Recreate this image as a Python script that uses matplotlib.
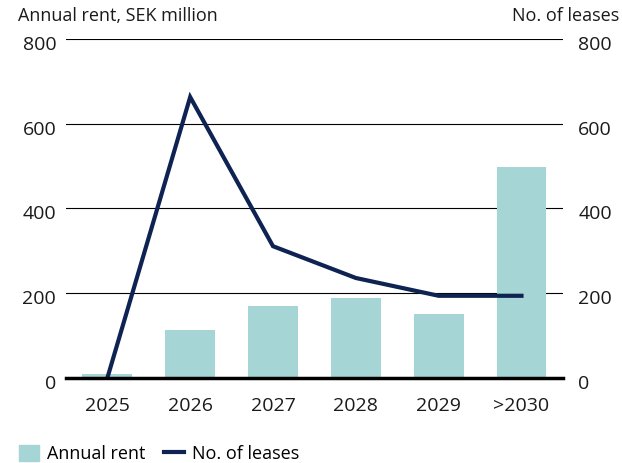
import matplotlib.pyplot as plt
import matplotlib.lines as mlines
import matplotlib.patches as patches
import matplotlib.transforms as mtransforms

# Data
categories = ["2025", "2026", "2027", "2028", "2029", ">2030"]
annual_rent = [10, 113, 170, 189, 151, 498]
no_of_leases = [0, 663, 311, 236, 194, 194]
y_ticks = [0, 200, 400, 600, 800]

BAR_COLOR = "#a5d6d5"
LINE_COLOR = "#0f2352"

plt.rcParams['font.family'] = ['Open Sans', 'DejaVu Sans']

fig = plt.figure(figsize=(6.22, 4.63), dpi=100)
ax = fig.add_axes([0.106, 0.1836, 0.799, 0.7322])
ax2 = ax.twinx()

x = list(range(len(categories)))
ax.bar(x, annual_rent, width=0.6, color=BAR_COLOR, zorder=2)
ax2.plot(x, no_of_leases, color=LINE_COLOR, linewidth=3, solid_joinstyle='miter', zorder=3)

for a in (ax, ax2):
    a.set_ylim(0, 800)
    a.set_yticks(y_ticks)
    a.set_xlim(-0.5, 5.5)
    for s in a.spines.values():
        s.set_visible(False)
    a.tick_params(length=0, labelsize=14, colors='#1a1a1a')

ax.tick_params(axis='y', pad=7)
ax2.tick_params(axis='y', pad=11)
ax.tick_params(axis='x', pad=14)
ax.set_xticks(x)
ax.set_xticklabels(categories)
ax.set_yticklabels([str(v) for v in y_ticks])
ax2.set_yticklabels([str(v) for v in y_ticks])

# y labels sit a little below their gridlines
shift = mtransforms.ScaledTranslation(0, -4 / 100, fig.dpi_scale_trans)
for lbl in ax.get_yticklabels() + ax2.get_yticklabels():
    lbl.set_transform(lbl.get_transform() + shift)

for v in y_ticks[1:]:
    ax.axhline(v, color='black', linewidth=0.8, zorder=1)
ax2.axhline(0, color='black', linewidth=2.5, zorder=4, clip_on=False)

fig.text(0.029, 0.945, "Annual rent, SEK million", fontsize=13, ha='left', va='bottom', color='#1a1a1a')
fig.text(0.996, 0.945, "No. of leases", fontsize=13, ha='right', va='bottom', color='#1a1a1a')

# legend
h1 = patches.Patch(color=BAR_COLOR)
h2 = mlines.Line2D([], [], color=LINE_COLOR, linewidth=3)
fig.legend([h1, h2], ["Annual rent", "No. of leases"], loc='lower left',
           bbox_to_anchor=(0.004, -0.035), ncol=2, frameon=False, fontsize=13,
           handlelength=1.1, handleheight=0.95, columnspacing=1.05, handletextpad=0.45)

fig.savefig("out.png", dpi=100)
